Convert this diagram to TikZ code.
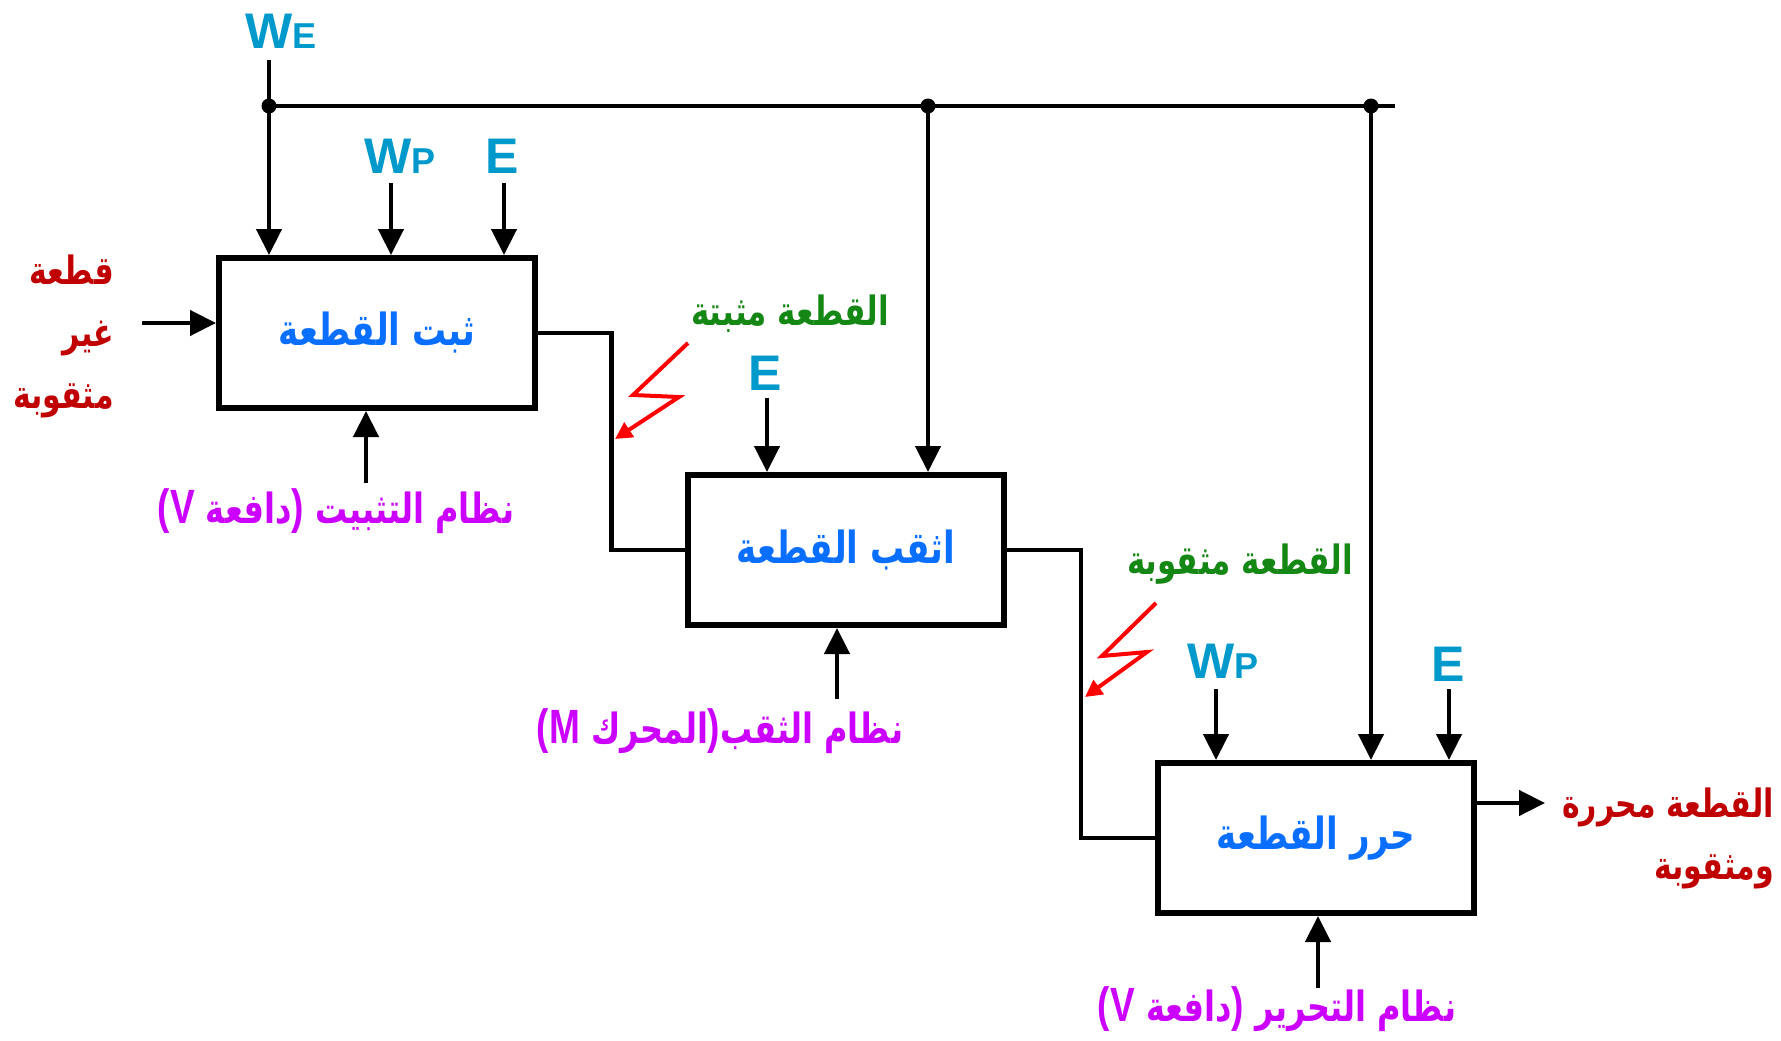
\documentclass[tikz,border=0pt]{standalone}
\usepackage{fontspec}
\usepackage{graphicx}
\setmainfont{Liberation Sans}
\newfontfamily\arfont[Script=Arabic]{DejaVu Sans}
\TeXXeTstate=1
\usetikzlibrary{arrows.meta,calc}
\definecolor{lblblue}{RGB}{0,153,204}
\definecolor{boxblue}{RGB}{10,110,255}
\definecolor{outred}{RGB}{192,0,0}
\definecolor{stategreen}{RGB}{20,135,20}
\definecolor{ctrlmag}{RGB}{204,0,255}
% right-to-left run, set a little taller than the font's own proportions
\newcommand\rl[1]{\scalebox{1}[1.3]{\beginR#1\endR}}
\newcommand\tall[1]{\scalebox{1}[1.3]{#1}}
\newcommand\lat{\normalfont\bfseries\fontsize{37}{40}\selectfont}
\newcommand\subl[1]{{\fontsize{36}{36}\selectfont #1}}
\begin{document}
\begin{tikzpicture}[x=1pt,y=-1pt,
  blk/.style={draw,line width=6pt,minimum width=316pt,minimum height=150pt,inner sep=0pt,
    font=\arfont\bfseries\fontsize{34}{40}\selectfont,text=boxblue},
  arr/.style={line width=4.5pt,-{Triangle[length=26pt,width=25pt]}},
  conn/.style={line width=4.5pt},
  bolt/.style={draw=red,line width=4pt,-{Triangle[length=17pt,width=17pt]}},
  sig/.style={font=\bfseries\fontsize{50}{50}\selectfont,text=lblblue,inner sep=0pt},
  ctrl/.style={font=\arfont\bfseries\fontsize{32}{40}\selectfont,text=ctrlmag,inner sep=0pt},
  state/.style={font=\arfont\bfseries\fontsize{31}{40}\selectfont,text=stategreen,inner sep=0pt},
  part/.style={font=\arfont\bfseries\fontsize{30}{62}\selectfont,text=outred,inner sep=0pt,align=right},
  dot/.style={fill=black}]
\fill[white] (0,0) rectangle (1781,1041);
\useasboundingbox (0,0) rectangle (1781,1041);

% the three stations
\node[blk] (b1) at (377,333) {\rl{ثبت القطعة}};
\node[blk] (b2) at (846,550) {\rl{اثقب القطعة}};
\node[blk] (b3) at (1316,838) {\rl{حرر القطعة}};

% energy bus
\node[sig] (we) at (281,31) {W\subl{E}};
\coordinate (westart) at (269,60);
\coordinate (j1) at (269,106);
\coordinate (j2) at (928,106);
\coordinate (j3) at (1371,106);
\coordinate (busend) at (1395,106);
\draw[conn] (j1) -- (busend);
\draw[arr] (westart) -- (j1) -- (j1 |- b1.north);
\draw[arr] (j2) -- (j2 |- b2.north);
\draw[arr] (j3) -- (j3 |- b3.north);
\foreach \j in {j1,j2,j3} \fill[dot] (\j) circle (7.5pt);

% station 1 inputs
\node[sig] (wp1) at (400,156) {W\subl{P}};
\coordinate (wp1s) at (391,183);
\draw[arr] (wp1s) -- (wp1s |- b1.north);
\node[sig] (e1) at (502,156) {E};
\coordinate (e1s) at (504,183);
\draw[arr] (e1s) -- (e1s |- b1.north);

\node[part,anchor=east] (raw) at (114,336) {\rl{قطعة}\\\rl{غير}\\\rl{مثقوبة}};
\coordinate (rawin) at (142,323);
\draw[arr] (rawin) -- (rawin -| b1.west);

\coordinate (c1s) at (366,483);
\draw[arr] (c1s) -- (c1s |- b1.south);
\node[ctrl] (c1) at (336,511) {\tall{{\lat(V} دافعة{\lat)} \beginR نظام التثبيت\endR}};

% transfer 1 -> 2
\draw[conn] (b1.east) -| ($(b1.east)!.5!(b2.west)$) |- (b2.west);
\coordinate (z1) at (688,343);
\draw[bolt] (z1) -- ++(-55,52) -- ++(46,2) -- ++(-64,42);
\node[state] (s1) at (790,314) {\rl{القطعة مثبتة}};

% station 2 inputs
\node[sig] (e2) at (765,373) {E};
\coordinate (e2s) at (767,398);
\draw[arr] (e2s) -- (e2s |- b2.north);
\coordinate (c2s) at (837,699);
\draw[arr] (c2s) -- (c2s |- b2.south);
\node[ctrl] (c2) at (720,731) {\tall{{\lat(M} المحرك{\lat)}\beginR نظام الثقب\endR}};

% transfer 2 -> 3
\draw[conn] (b2.east) -| ($(b2.east)!.5!(b3.west)$) |- (b3.west);
\coordinate (z2) at (1156,603);
\draw[bolt] (z2) -- ++(-54,53) -- ++(45,-4) -- ++(-62,45);
\node[state] (s2) at (1240,564) {\rl{القطعة مثقوبة}};

% station 3 inputs
\node[sig] (wp3) at (1223,661) {W\subl{P}};
\coordinate (wp3s) at (1216,689);
\draw[arr] (wp3s) -- (wp3s |- b3.north);
\node[sig] (e3) at (1448,664) {E};
\coordinate (e3s) at (1449,689);
\draw[arr] (e3s) -- (e3s |- b3.north);
\coordinate (c3s) at (1318,988);
\draw[arr] (c3s) -- (c3s |- b3.south);
\node[ctrl] (c3) at (1277,1009) {\tall{{\lat(V} دافعة{\lat)} \beginR نظام التحرير\endR}};

% output
\coordinate (outend) at (1545,803);
\draw[arr] (outend -| b3.east) -- (outend);
\node[part,anchor=east] (done) at (1774,838) {\rl{القطعة محررة}\\\rl{ومثقوبة}};
\end{tikzpicture}
\end{document}
